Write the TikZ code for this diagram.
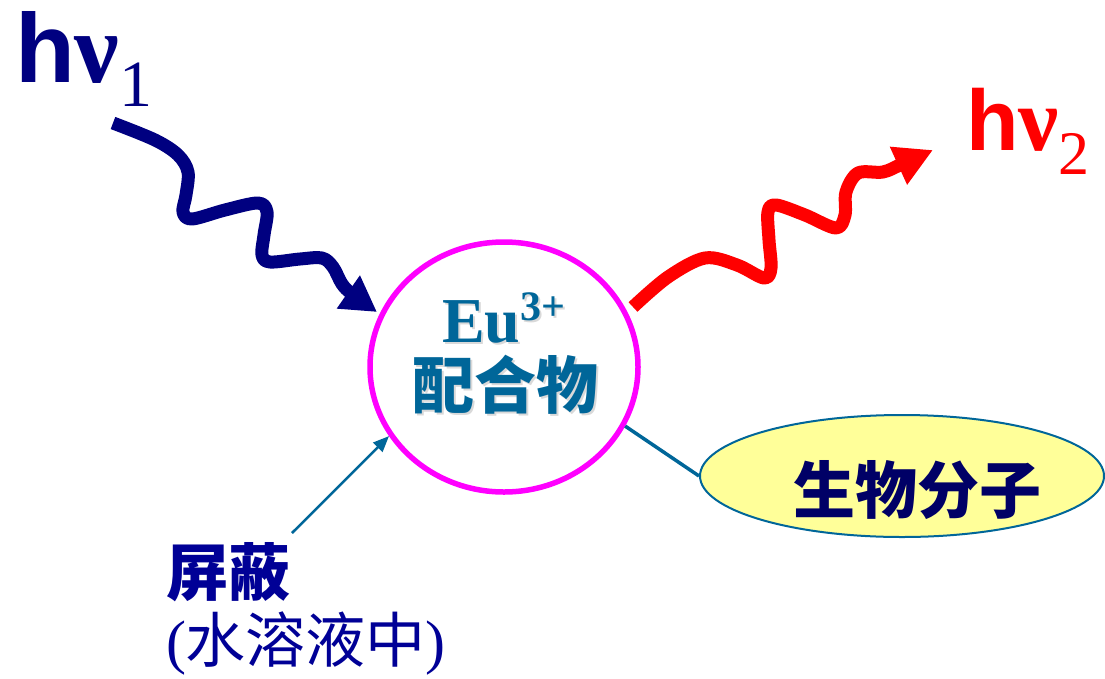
\documentclass[tikz,border=0pt]{standalone}
\usepackage{fontspec}
\setmainfont{Liberation Serif}
\newfontfamily\cjk{Noto Sans CJK SC}
\newfontfamily\arialf{Liberation Sans}
\usetikzlibrary{arrows.meta,shapes.geometric}
\definecolor{navyc}{RGB}{0,0,128}
\definecolor{redc}{RGB}{255,0,0}
\definecolor{magc}{RGB}{255,0,255}
\definecolor{tealc}{RGB}{0,102,153}
\definecolor{bioc}{RGB}{0,0,102}
\definecolor{shc}{RGB}{0,0,150}
\definecolor{yelc}{RGB}{255,255,153}
\tikzset{
  lbl/.style={inner sep=0pt, outer sep=0pt},
  wave/.style={line width=13, line cap=butt, line join=round},
}
\begin{document}
\begin{tikzpicture}[x=1pt,y=-1pt]
\useasboundingbox (0,0) rectangle (1105,678);
% labels
\node[lbl, anchor=base west, text=navyc] (hv1) at (15,82)
  {{\arialf\bfseries\fontsize{98}{98}\selectfont h}{\bfseries\fontsize{100}{100}\selectfont ν}\raisebox{-24pt}{\fontsize{66}{66}\selectfont 1}};
\node[lbl, anchor=base west, text=redc] (hv2) at (966,150)
  {{\arialf\bfseries\fontsize{86}{86}\selectfont h}{\bfseries\fontsize{90}{90}\selectfont ν}\raisebox{-24pt}{\fontsize{62}{62}\selectfont 2}};
% complex
\node[ellipse, draw=magc, line width=5.5, minimum width=268, minimum height=250, inner sep=0] (eu) at (504,367) {};
\node[lbl, anchor=base west, text=black!15] at (444,344)
  {\bfseries\fontsize{64}{64}\selectfont Eu\raisebox{22pt}{\fontsize{42}{42}\selectfont 3+}};
\node[lbl, anchor=base west, text=tealc] (eut) at (442,342)
  {\bfseries\fontsize{64}{64}\selectfont Eu\raisebox{22pt}{\fontsize{42}{42}\selectfont 3+}};
\node[lbl, text=black!15] at (507,387) {\cjk\bfseries\fontsize{62}{62}\selectfont 配合物};
\node[lbl, text=tealc] (cpx) at (505,385) {\cjk\bfseries\fontsize{62}{62}\selectfont 配合物};
% biomolecule
\node[ellipse, draw=tealc, fill=yelc, line width=2, minimum width=404, minimum height=122, inner sep=0] (bio) at (902,476) {};
\node[lbl, text=bioc] (biot) at (917,490) {\cjk\bfseries\fontsize{62}{62}\selectfont 生物分子};
% shielding
\node[lbl, anchor=west, text=shc] (sh) at (166,572) {\cjk\bfseries\fontsize{62}{62}\selectfont 屏蔽};
\node[lbl, anchor=west, text=shc] (aq) at (166,643) {\fontsize{60}{60}\selectfont(\cjk 水溶液中\rmfamily)};
\coordinate (shs) at (292,533);
% connectors
\draw[tealc, line width=2.5, -{Triangle[length=16,width=13]}] (shs) -- (eu.211);
\draw[tealc, line width=3.5] (eu.-26) -- (bio.west);
% wavy arrows
\coordinate (w1s) at (113,123);
\coordinate (w1e) at (377,312);
\draw[navyc, wave, -{Triangle[length=35,width=38]}] plot[smooth, tension=0.55] coordinates {
 (w1s) (155,140) (178,155) (188,172) (186,195) (183,212) (192,219) (225,210) (258,203) (267,212) (264,235) (262,255) (270,262) (300,259) (322,258) (333,267) (342,284) (352,294) (w1e)};
\coordinate (w2s) at (633,307);
\coordinate (w2e) at (933,150);
\draw[redc, wave, -{Triangle[length=38,width=39]}] plot[smooth, tension=0.55] coordinates {
 (w2s) (668,277) (705,258) (737,265) (764,278) (771,268) (769,240) (768,212) (776,205) (805,215) (836,228) (845,215) (846,192) (858,173) (883,172) (902,164) (w2e)};
\end{tikzpicture}
\end{document}
